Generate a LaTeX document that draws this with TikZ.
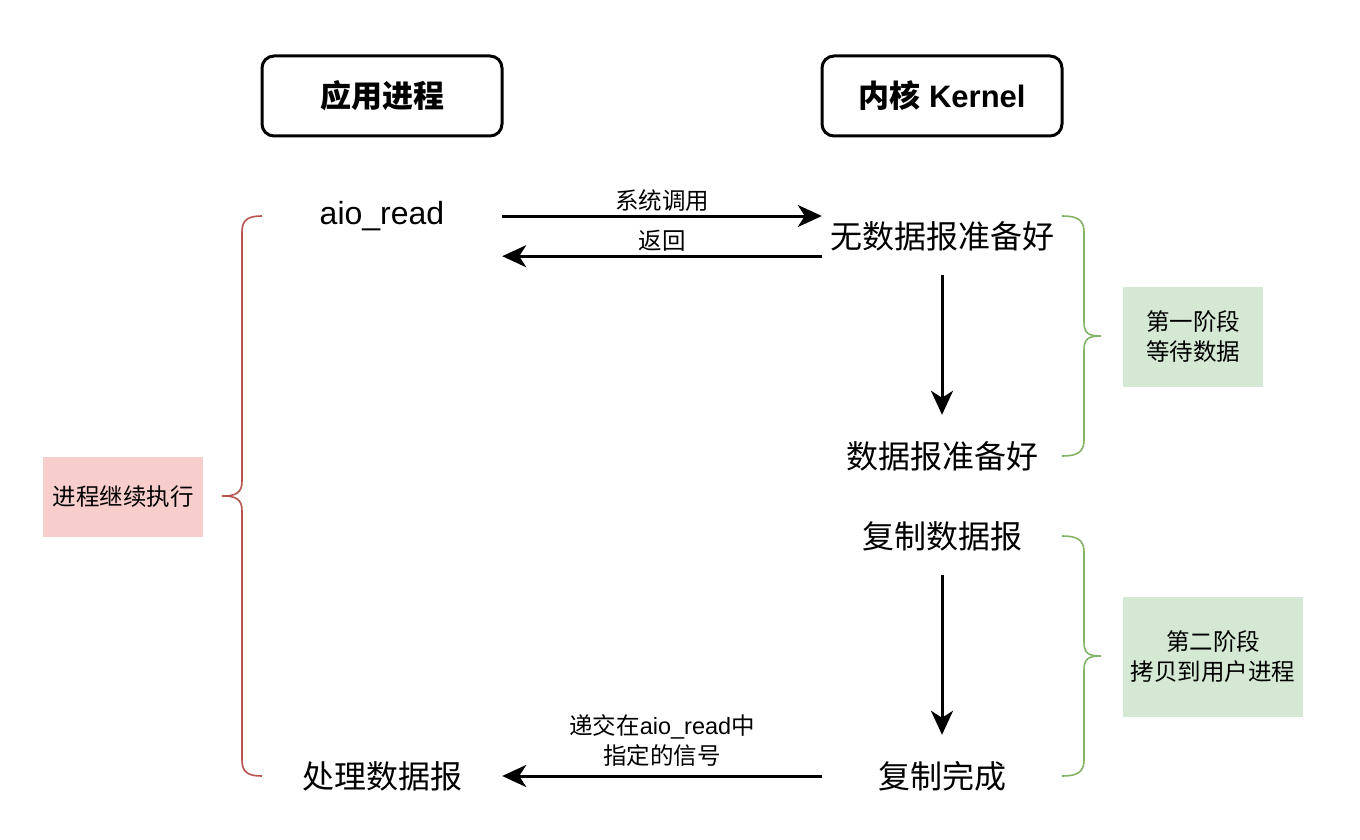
\documentclass[tikz,border=0pt]{standalone}
\usepackage{fontspec}
\setmainfont{Liberation Sans}
\newfontfamily\cjk{Noto Sans CJK SC}
\usetikzlibrary{arrows.meta}
\definecolor{redline}{HTML}{B85450}
\definecolor{redfill}{HTML}{F8CECC}
\definecolor{greenline}{HTML}{82B366}
\definecolor{greenfill}{HTML}{D5E8D4}
\tikzset{
  titlebox/.style={draw=black, line width=3pt, rounded corners=12pt, minimum width=240pt, minimum height=80pt, font=\fontsize{31}{37}\selectfont\bfseries},
  cell/.style={minimum width=240pt, minimum height=40pt, inner sep=0pt, font=\fontsize{32}{38}\selectfont},
  arr/.style={line width=3pt, -{Stealth[length=24pt, width=22pt, inset=7pt]}},
  lbl/.style={font=\fontsize{23.5}{30}\selectfont, inner sep=0pt, align=center},
  phase/.style={inner sep=0pt, font=\fontsize{23.5}{30}\selectfont, align=center},
  bracered/.style={draw=redline, line width=1.6pt},
  bracegreen/.style={draw=greenline, line width=1.6pt}
}
\begin{document}
\begin{tikzpicture}[x=1pt,y=-1pt]
\useasboundingbox (0,0) rectangle (1360,840);
\fill[white] (0,0) rectangle (1360,840);
% title boxes
\node[titlebox] (app) at (382,96) {{\cjk 应用进程}};
\node[titlebox] (kern) at (942,96) {{\cjk 内核} Kernel};
% left column
\node[cell] (aio) at (382,216) {aio\_read};
\node[cell] (proc) at (382,776) {{\cjk 处理数据报}};
% right column
\node[cell] (wu) at (942,236) {{\cjk 无数据报准备好}};
\node[cell] (ready) at (942,456) {{\cjk 数据报准备好}};
\node[cell] (copy) at (942,536) {{\cjk 复制数据报}};
\node[cell] (done) at (942,776) {{\cjk 复制完成}};
% arrows
\draw[arr] (aio.east) -- node[lbl, midway, above=3pt] {{\cjk 系统调用}} (aio.east -| wu.west);
\draw[arr] (wu.south west) -- node[lbl, midway, above=3pt] {{\cjk 返回}} (wu.south west -| aio.east);
\draw[arr, shorten <=19pt, shorten >=21pt] (wu.south) -- (ready.north);
\draw[arr, shorten <=19pt, shorten >=21pt] (copy.south) -- (done.north);
\draw[arr] (done.west) -- node[lbl, midway, above=8pt] {{\cjk 递交在}aio\_read{\cjk 中}\\{\cjk 指定的信号}} (proc.east);
% red brace
\draw[bracered] (262,216) .. controls (249,216) and (242,219) .. (242,232) -- (242,481)
  .. controls (242,493) and (236,496) .. (222,496)
  .. controls (236,496) and (242,499) .. (242,511) -- (242,760)
  .. controls (242,773) and (249,776) .. (262,776);
\node[phase, fill=redfill, minimum width=160pt, minimum height=80pt] (cont) at (123,497) {{\cjk 进程继续执行}};
% green brace 1
\draw[bracegreen] (1062,216) .. controls (1076,216) and (1084,219) .. (1084,232) -- (1084,322)
  .. controls (1084,333) and (1088,336) .. (1101,336)
  .. controls (1088,336) and (1084,339) .. (1084,350) -- (1084,440)
  .. controls (1084,453) and (1076,456) .. (1062,456);
\node[phase, fill=greenfill, minimum width=140pt, minimum height=100pt] (p1) at (1193,337) {{\cjk 第一阶段}\\{\cjk 等待数据}};
% green brace 2
\draw[bracegreen] (1062,536) .. controls (1076,536) and (1084,539) .. (1084,552) -- (1084,642)
  .. controls (1084,653) and (1088,656) .. (1101,656)
  .. controls (1088,656) and (1084,659) .. (1084,670) -- (1084,760)
  .. controls (1084,773) and (1076,776) .. (1062,776);
\node[phase, fill=greenfill, minimum width=180pt, minimum height=120pt] (p2) at (1213,657) {{\cjk 第二阶段}\\{\cjk 拷贝到用户进程}};
\end{tikzpicture}
\end{document}
